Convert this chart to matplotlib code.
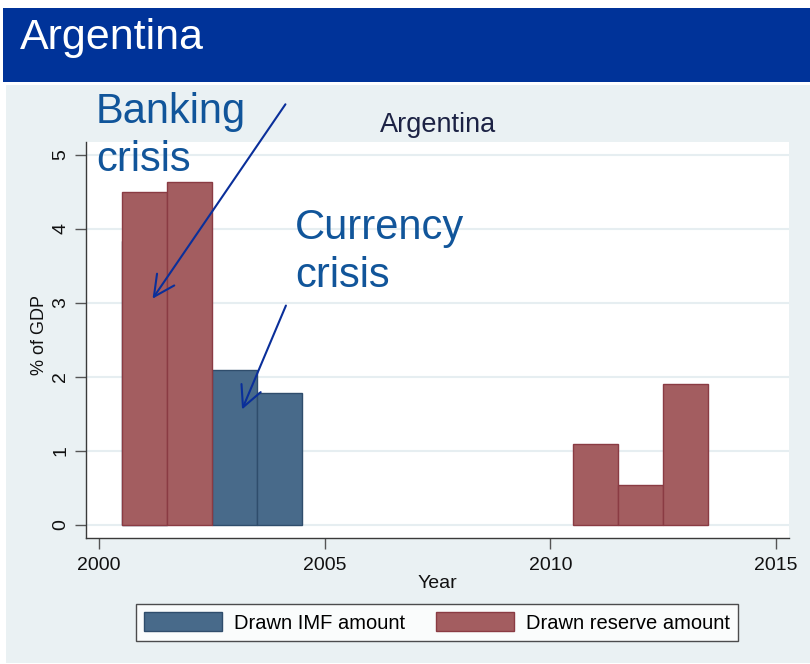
import matplotlib
matplotlib.use("Agg")
import matplotlib.pyplot as plt
from matplotlib.patches import Rectangle, FancyArrowPatch

plt.rcParams["font.family"] = ["Liberation Sans", "DejaVu Sans"]

# Data (% of GDP)
imf_years = [2001, 2003, 2004]
imf_values = [3.83, 2.09, 1.78]
reserve_years = [2001, 2002, 2011, 2012, 2013]
reserve_values = [4.50, 4.63, 1.09, 0.545, 1.905]

x_ticks = [2000, 2005, 2010, 2015]
y_ticks = [0, 1, 2, 3, 4, 5]

slide_title = "Argentina"
chart_title = "Argentina"
x_label = "Year"
y_label = "% of GDP"
series_labels = ["Drawn IMF amount", "Drawn reserve amount"]

W, H = 810, 664
fig = plt.figure(figsize=(W / 100, H / 100), dpi=100)
fig.patch.set_facecolor("white")


def fx(x):
    return x / W


def fy(y):
    return 1 - y / H


# Slide background: title band and light panel
fig.patches.append(Rectangle((fx(3), fy(82)), fx(810) - fx(3), fy(8) - fy(82),
                             transform=fig.transFigure, facecolor="#003399",
                             edgecolor="none", zorder=-10))
fig.patches.append(Rectangle((fx(6), fy(663)), fx(810) - fx(6), fy(85) - fy(663),
                             transform=fig.transFigure, facecolor="#eaf1f3",
                             edgecolor="none", zorder=-10))
fig.text(fx(20), fy(49), slide_title, color="white", fontsize=31,
         ha="left", va="baseline")

# Plot region
ax = fig.add_axes([fx(86), fy(538), fx(789) - fx(86), fy(142) - fy(538)])
ax.set_zorder(1)
ax.set_facecolor("white")

imf_color = "#486a8a"
res_color = "#a35d60"
b1 = ax.bar(imf_years, imf_values, width=1.0, color=imf_color,
            edgecolor="#2f4d6c", linewidth=1.0, zorder=2)
b2 = ax.bar(reserve_years, reserve_values, width=1.0, color=res_color,
            edgecolor="#8a3b43", linewidth=1.0, zorder=3)

ax.set_xlim(1999.71, 2015.29)
ax.set_ylim(-0.175, 5.17)
ax.set_xticks(x_ticks)
ax.set_yticks(y_ticks)
ax.yaxis.grid(True, color="#e6eef1", linewidth=1.5, zorder=1)
ax.set_axisbelow(True)

for s in ["top", "right"]:
    ax.spines[s].set_visible(False)
for s in ["left", "bottom"]:
    ax.spines[s].set_color("#3a3a3a")
    ax.spines[s].set_linewidth(1.0)

ax.tick_params(axis="both", direction="out", length=8, width=1,
               color="#555555", labelsize=14, labelcolor="#111111")
ax.tick_params(axis="x", pad=6)
ax.tick_params(axis="y", pad=4)
for lbl in ax.get_yticklabels():
    lbl.set_rotation(90)
    lbl.set_va("center")

fig.text(fx(437), fy(588), x_label, fontsize=14, ha="center",
         va="baseline", color="#111111")
fig.text(fx(39), fy(335), y_label, fontsize=13, ha="center",
         va="center", rotation=90, color="#111111")
fig.text(fx(438), fy(132), chart_title, fontsize=19.5, ha="center",
         va="baseline", color="#1c2244")

leg = fig.legend([b1, b2], series_labels, loc="center",
                 bbox_to_anchor=(fx(437), fy(622.5)), ncol=2,
                 frameon=True, fancybox=False, fontsize=14.5,
                 handlelength=3.85, handleheight=1.05, handletextpad=0.6,
                 columnspacing=1.55, borderpad=0.4)
leg.get_frame().set_edgecolor("#222222")
leg.get_frame().set_linewidth(1.0)

# Crisis annotations (baseline given for the second line)
note_color = "#11559a"
fig.text(fx(96), fy(171), "Banking\ncrisis", fontsize=30, color=note_color,
         ha="left", va="baseline", linespacing=1.27, zorder=5)
fig.text(fx(295), fy(287), "Currency\ncrisis", fontsize=30, color=note_color,
         ha="left", va="baseline", linespacing=1.27, zorder=5)

arrow_style = "->,head_length=1.0,head_width=0.5"
for (x0, y0), (x1, y1) in [((287, 102), (151, 301)), ((287, 303), (241, 412))]:
    fig.patches.append(FancyArrowPatch((fx(x0), fy(y0)), (fx(x1), fy(y1)),
                                       transform=fig.transFigure,
                                       arrowstyle=arrow_style,
                                       mutation_scale=15, color="#0a2f9a",
                                       linewidth=1.5, zorder=6))

fig.savefig("out.png", dpi=100)
